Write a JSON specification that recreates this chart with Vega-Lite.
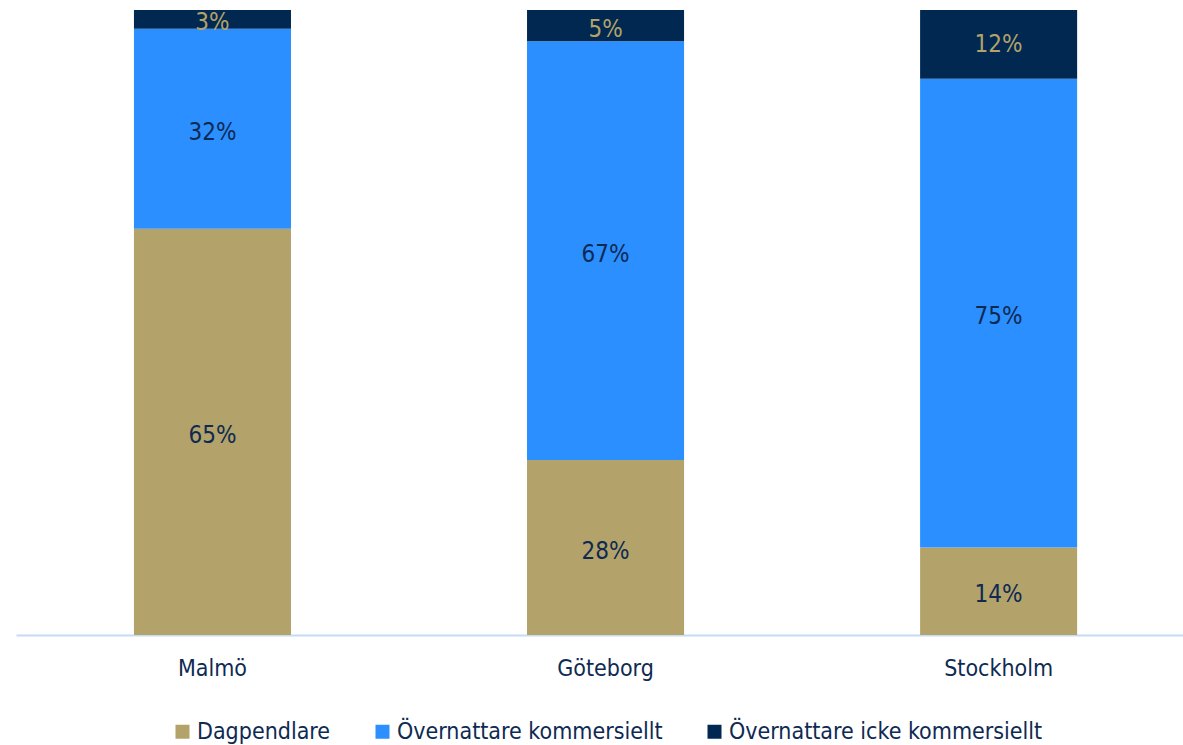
{
  "$schema": "https://vega.github.io/schema/vega-lite/v6.json",
  "width": 1167,
  "height": 625,
  "autosize": {"type": "none"},
  "padding": {"left": 16, "top": 10, "right": 0, "bottom": 110},
  "background": "white",
  "config": {
    "view": {"stroke": null},
    "font": "DejaVu Sans Condensed"
  },
  "data": {
    "values": [
      {"city": "Malmö", "series": "Dagpendlare", "order": 1, "value": 0.65},
      {"city": "Malmö", "series": "Övernattare kommersiellt", "order": 2, "value": 0.32},
      {"city": "Malmö", "series": "Övernattare icke kommersiellt", "order": 3, "value": 0.03},
      {"city": "Göteborg", "series": "Dagpendlare", "order": 1, "value": 0.28},
      {"city": "Göteborg", "series": "Övernattare kommersiellt", "order": 2, "value": 0.67},
      {"city": "Göteborg", "series": "Övernattare icke kommersiellt", "order": 3, "value": 0.05},
      {"city": "Stockholm", "series": "Dagpendlare", "order": 1, "value": 0.14},
      {"city": "Stockholm", "series": "Övernattare kommersiellt", "order": 2, "value": 0.75},
      {"city": "Stockholm", "series": "Övernattare icke kommersiellt", "order": 3, "value": 0.12}
    ]
  },
  "transform": [
    {"stack": "value", "groupby": ["city"], "sort": [{"field": "order", "order": "ascending"}], "as": ["v0", "v1"], "offset": "zero"}
  ],
  "encoding": {
    "x": {
      "field": "city",
      "type": "nominal",
      "sort": ["Malmö", "Göteborg", "Stockholm"],
      "scale": {"paddingInner": 0.6005, "paddingOuter": 0.2847, "align": 0.527},
      "axis": {
        "title": null,
        "labelAngle": 0,
        "ticks": false,
        "domainColor": "#C5DCF3",
        "domainWidth": 2,
        "labelFontSize": 23,
        "labelColor": "#0E2A52",
        "labelPadding": 22,
        "labelFont": "DejaVu Sans Condensed"
      }
    }
  },
  "layer": [
    {
      "mark": {"type": "bar", "clip": true},
      "encoding": {
        "y": {
          "field": "v0",
          "type": "quantitative",
          "scale": {"domain": [0, 1], "nice": false},
          "axis": null
        },
        "y2": {"field": "v1"},
        "color": {
          "field": "series",
          "type": "nominal",
          "sort": ["Dagpendlare", "Övernattare kommersiellt", "Övernattare icke kommersiellt"],
          "scale": {
            "domain": ["Dagpendlare", "Övernattare kommersiellt", "Övernattare icke kommersiellt"],
            "range": ["#B3A269", "#2B8FFF", "#002851"]
          },
          "legend": {
            "title": null,
            "orient": "none",
            "direction": "horizontal",
            "legendX": 155,
            "legendY": 710,
            "symbolType": "square",
            "symbolSize": 196,
            "symbolStrokeWidth": 0,
            "labelFontSize": 23,
            "labelColor": "#0E2A52",
            "labelFont": "DejaVu Sans Condensed",
            "labelOffset": 3,
            "columnPadding": 40,
            "labelLimit": 500
          }
        }
      }
    },
    {
      "transform": [
        {"fold": ["v0", "v1"], "as": ["edge", "pos"]},
        {"aggregate": [{"op": "mean", "field": "pos", "as": "mid"}], "groupby": ["city", "series", "value"]}
      ],
      "mark": {"type": "text", "fontSize": 24, "baseline": "middle", "align": "center", "dy": 4},
      "encoding": {
        "y": {
          "field": "mid",
          "type": "quantitative",
          "scale": {"domain": [0, 1], "nice": false},
          "axis": null
        },
        "text": {"field": "value", "type": "quantitative", "format": ".0%"},
        "color": {
          "condition": {"test": "datum.series === 'Övernattare icke kommersiellt'", "value": "#B3A269"},
          "value": "#0E2A52"
        }
      }
    }
  ]
}
